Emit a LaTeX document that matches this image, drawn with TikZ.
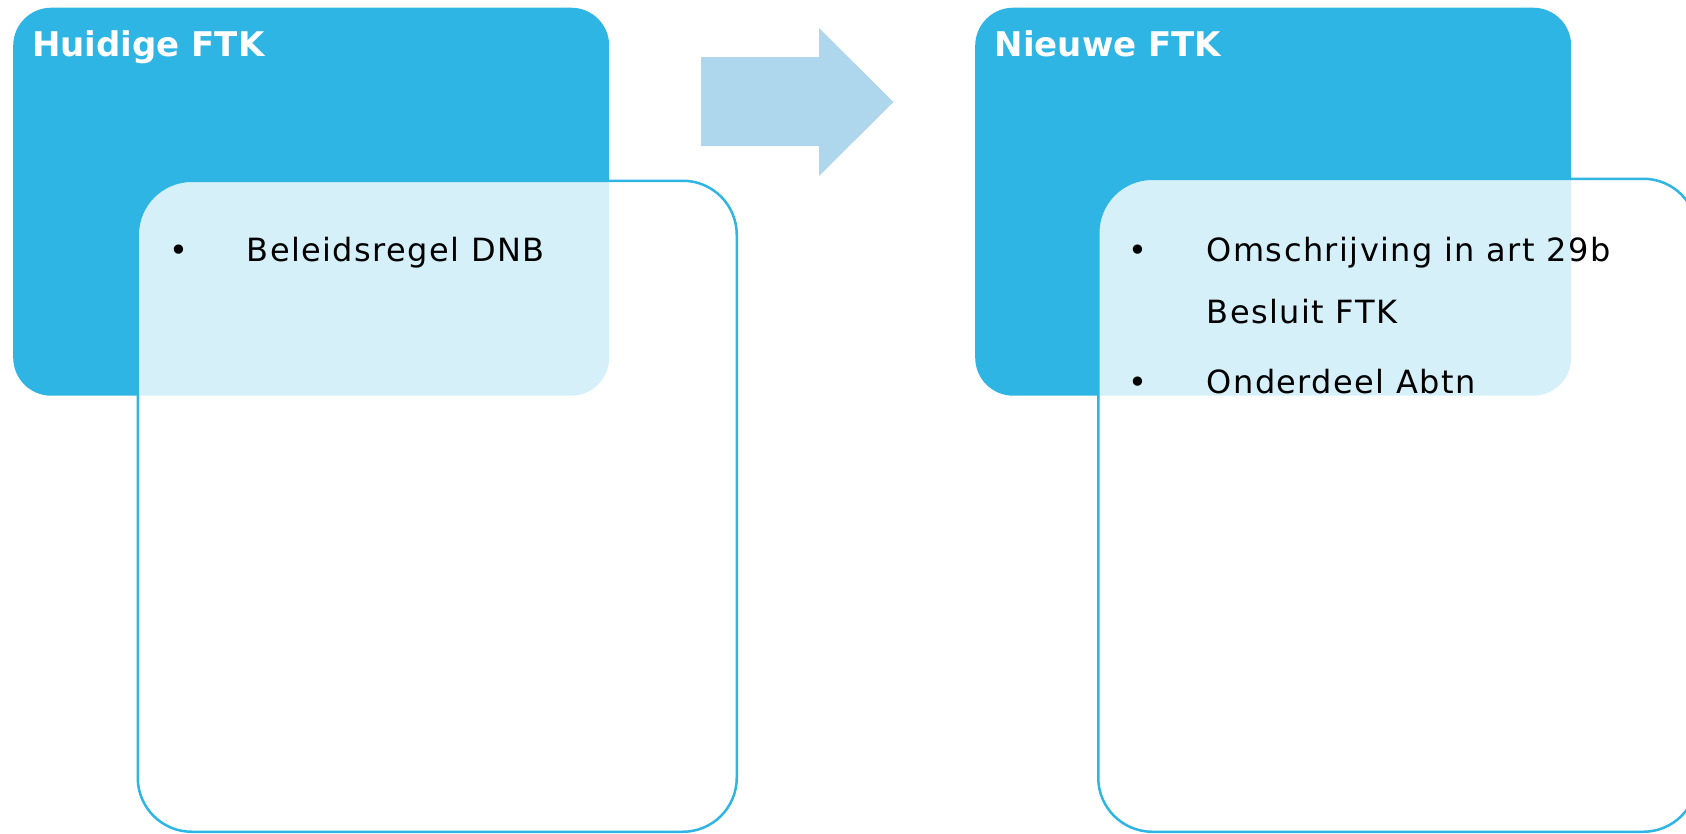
\documentclass[tikz,border=0pt]{standalone}
\usepackage{fontspec}
\setmainfont{DejaVu Sans}[LetterSpace=4.5]
\newfontfamily\titlefont{DejaVu Sans}
\definecolor{boxblue}{HTML}{2FB5E3}
\definecolor{arrowblue}{HTML}{AED7EE}
\tikzset{
  headbox/.style={rectangle, fill=boxblue, rounded corners=38pt, anchor=north west, inner sep=0pt},
  listbox/.style={rectangle, draw=boxblue, line width=2.5pt, fill=white, fill opacity=0.8, rounded corners=54pt, anchor=north west, inner sep=0pt},
  titletext/.style={anchor=base west, inner sep=0pt, text=white, font=\titlefont\bfseries\fontsize{34}{40}\selectfont},
  itemtext/.style={anchor=base west, inner sep=0pt, text=black, font=\fontsize{32}{40}\selectfont},
  bullettext/.style={anchor=base, inner sep=0pt, text=black, font=\titlefont\fontsize{32}{40}\selectfont},
}
\begin{document}
\begin{tikzpicture}[x=1pt,y=-1pt]
\useasboundingbox (0,0) rectangle (1686,833);
% left group
\node[headbox, minimum width=596pt, minimum height=388pt] (lhead) at (13,7.5) {};
\node[listbox, minimum width=599pt, minimum height=651pt] (llist) at (136.5,179.5) {};
\node[titletext] (ltitle) at (32,56) {Huidige FTK};
\node[bullettext] (lb1) at (179,261) {•};
\node[itemtext] (li1) at (246.5,261) {Beleidsregel DNB};
% arrow
\fill[arrowblue] (701,57) -- (819,57) -- (819,28) -- (893.5,102) -- (819,176) -- (819,146) -- (701,146) -- cycle;
% right group
\node[headbox, minimum width=596pt, minimum height=388pt] (rhead) at (975,7.5) {};
\node[listbox, minimum width=599pt, minimum height=653pt] (rlist) at (1097,177.5) {};
\node[titletext] (rtitle) at (994.5,56) {Nieuwe FTK};
\node[bullettext] (rb1) at (1138,261) {•};
\node[itemtext] (ri1) at (1206.5,261) {Omschrijving in art 29b};
\node[itemtext] (ri2) at (1206.5,323) {Besluit FTK};
\node[bullettext] (rb2) at (1138,393) {•};
\node[itemtext] (ri3) at (1206.5,393) {Onderdeel Abtn};
\end{tikzpicture}
\end{document}
